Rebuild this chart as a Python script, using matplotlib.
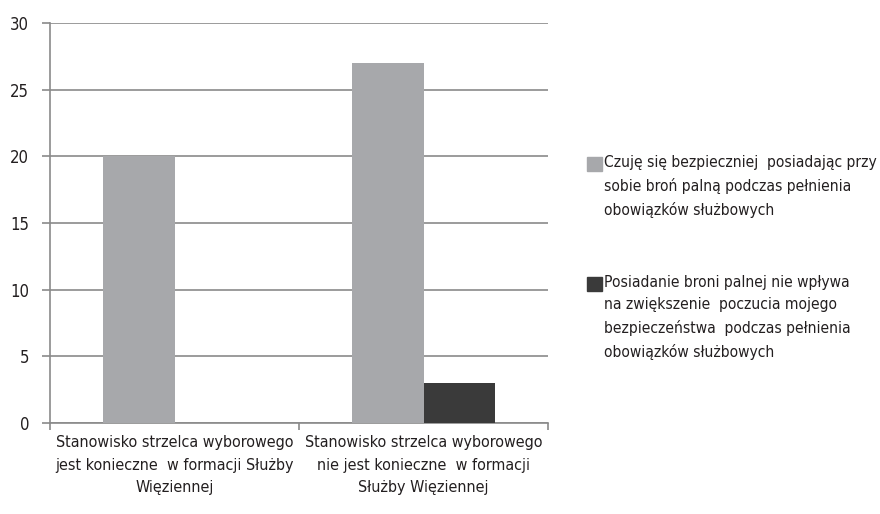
import matplotlib
matplotlib.use("Agg")
import matplotlib.pyplot as plt
from matplotlib.patches import Rectangle
import numpy as np

categories = [
    "Stanowisko strzelca wyborowego\njest konieczne  w formacji Służby\nWięziennej",
    "Stanowisko strzelca wyborowego\nnie jest konieczne  w formacji\nSłużby Więziennej",
]
series_names = [
    "Czuję się bezpieczniej  posiadając przy\nsobie broń palną podczas pełnienia\nobowiązków służbowych",
    "Posiadanie broni palnej nie wpływa\nna zwiększenie  poczucia mojego\nbezpieczeństwa  podczas pełnienia\nobowiązków służbowych",
]
safer = [20, 27]
no_effect = [0, 3]
yticks = [0, 5, 10, 15, 20, 25, 30]

colors = ["#a7a8ab", "#3a3a3a"]
plt.rcParams['font.family'] = ['DejaVu Sans']
plt.rcParams['font.stretch'] = 'condensed'
plt.rcParams['font.size'] = 11.5
text_color = "#231f20"
grid_color = "#8a8a8a"

fig = plt.figure(figsize=(8.8, 5.14), dpi=100)
ax = fig.add_axes([50 / 880, 1 - 423 / 514, 498 / 880, 400 / 514])

x = np.arange(len(categories))
w = 0.286
for i, vals in enumerate([safer, no_effect]):
    ax.bar(x + (i - 0.5) * w, vals, width=w, color=colors[i], zorder=3)

ax.set_xlim(-0.5, 1.5)
ax.set_ylim(0, 30)
ax.set_yticks(yticks)
ax.set_yticklabels([str(t) for t in yticks], color=text_color, fontsize=12)
ax.yaxis.grid(True, color=grid_color, linewidth=1.2, zorder=0)
ax.set_xticks([-0.5, 0.5, 1.5])
ax.set_xticklabels([])
ax.set_xticks(x, minor=True)
ax.set_xticklabels(categories, minor=True, color=text_color, linespacing=1.6)
ax.tick_params(axis='x', which='minor', length=0, pad=9)
ax.tick_params(axis='x', which='major', length=5, direction='out', color=grid_color, width=1.2)
ax.tick_params(axis='y', length=6, direction='out', color=grid_color, width=1.2, pad=9)
for s in ['top', 'right']:
    ax.spines[s].set_visible(False)
for s in ['left', 'bottom']:
    ax.spines[s].set_color(grid_color)
    ax.spines[s].set_linewidth(1.2)

# legend drawn by hand so the square sits next to the first line
legend_tops = [155, 275]
for name, color, top in zip(series_names, colors, legend_tops):
    fig.patches.append(Rectangle((587 / 880, 1 - (top + 16) / 514), 15 / 880, 14 / 514,
                                 transform=fig.transFigure, color=color))
    fig.text(604 / 880, 1 - top / 514, name, va='top', ha='left',
             color=text_color, linespacing=1.6, fontsize=11.2)

fig.savefig("out.png", dpi=100)
